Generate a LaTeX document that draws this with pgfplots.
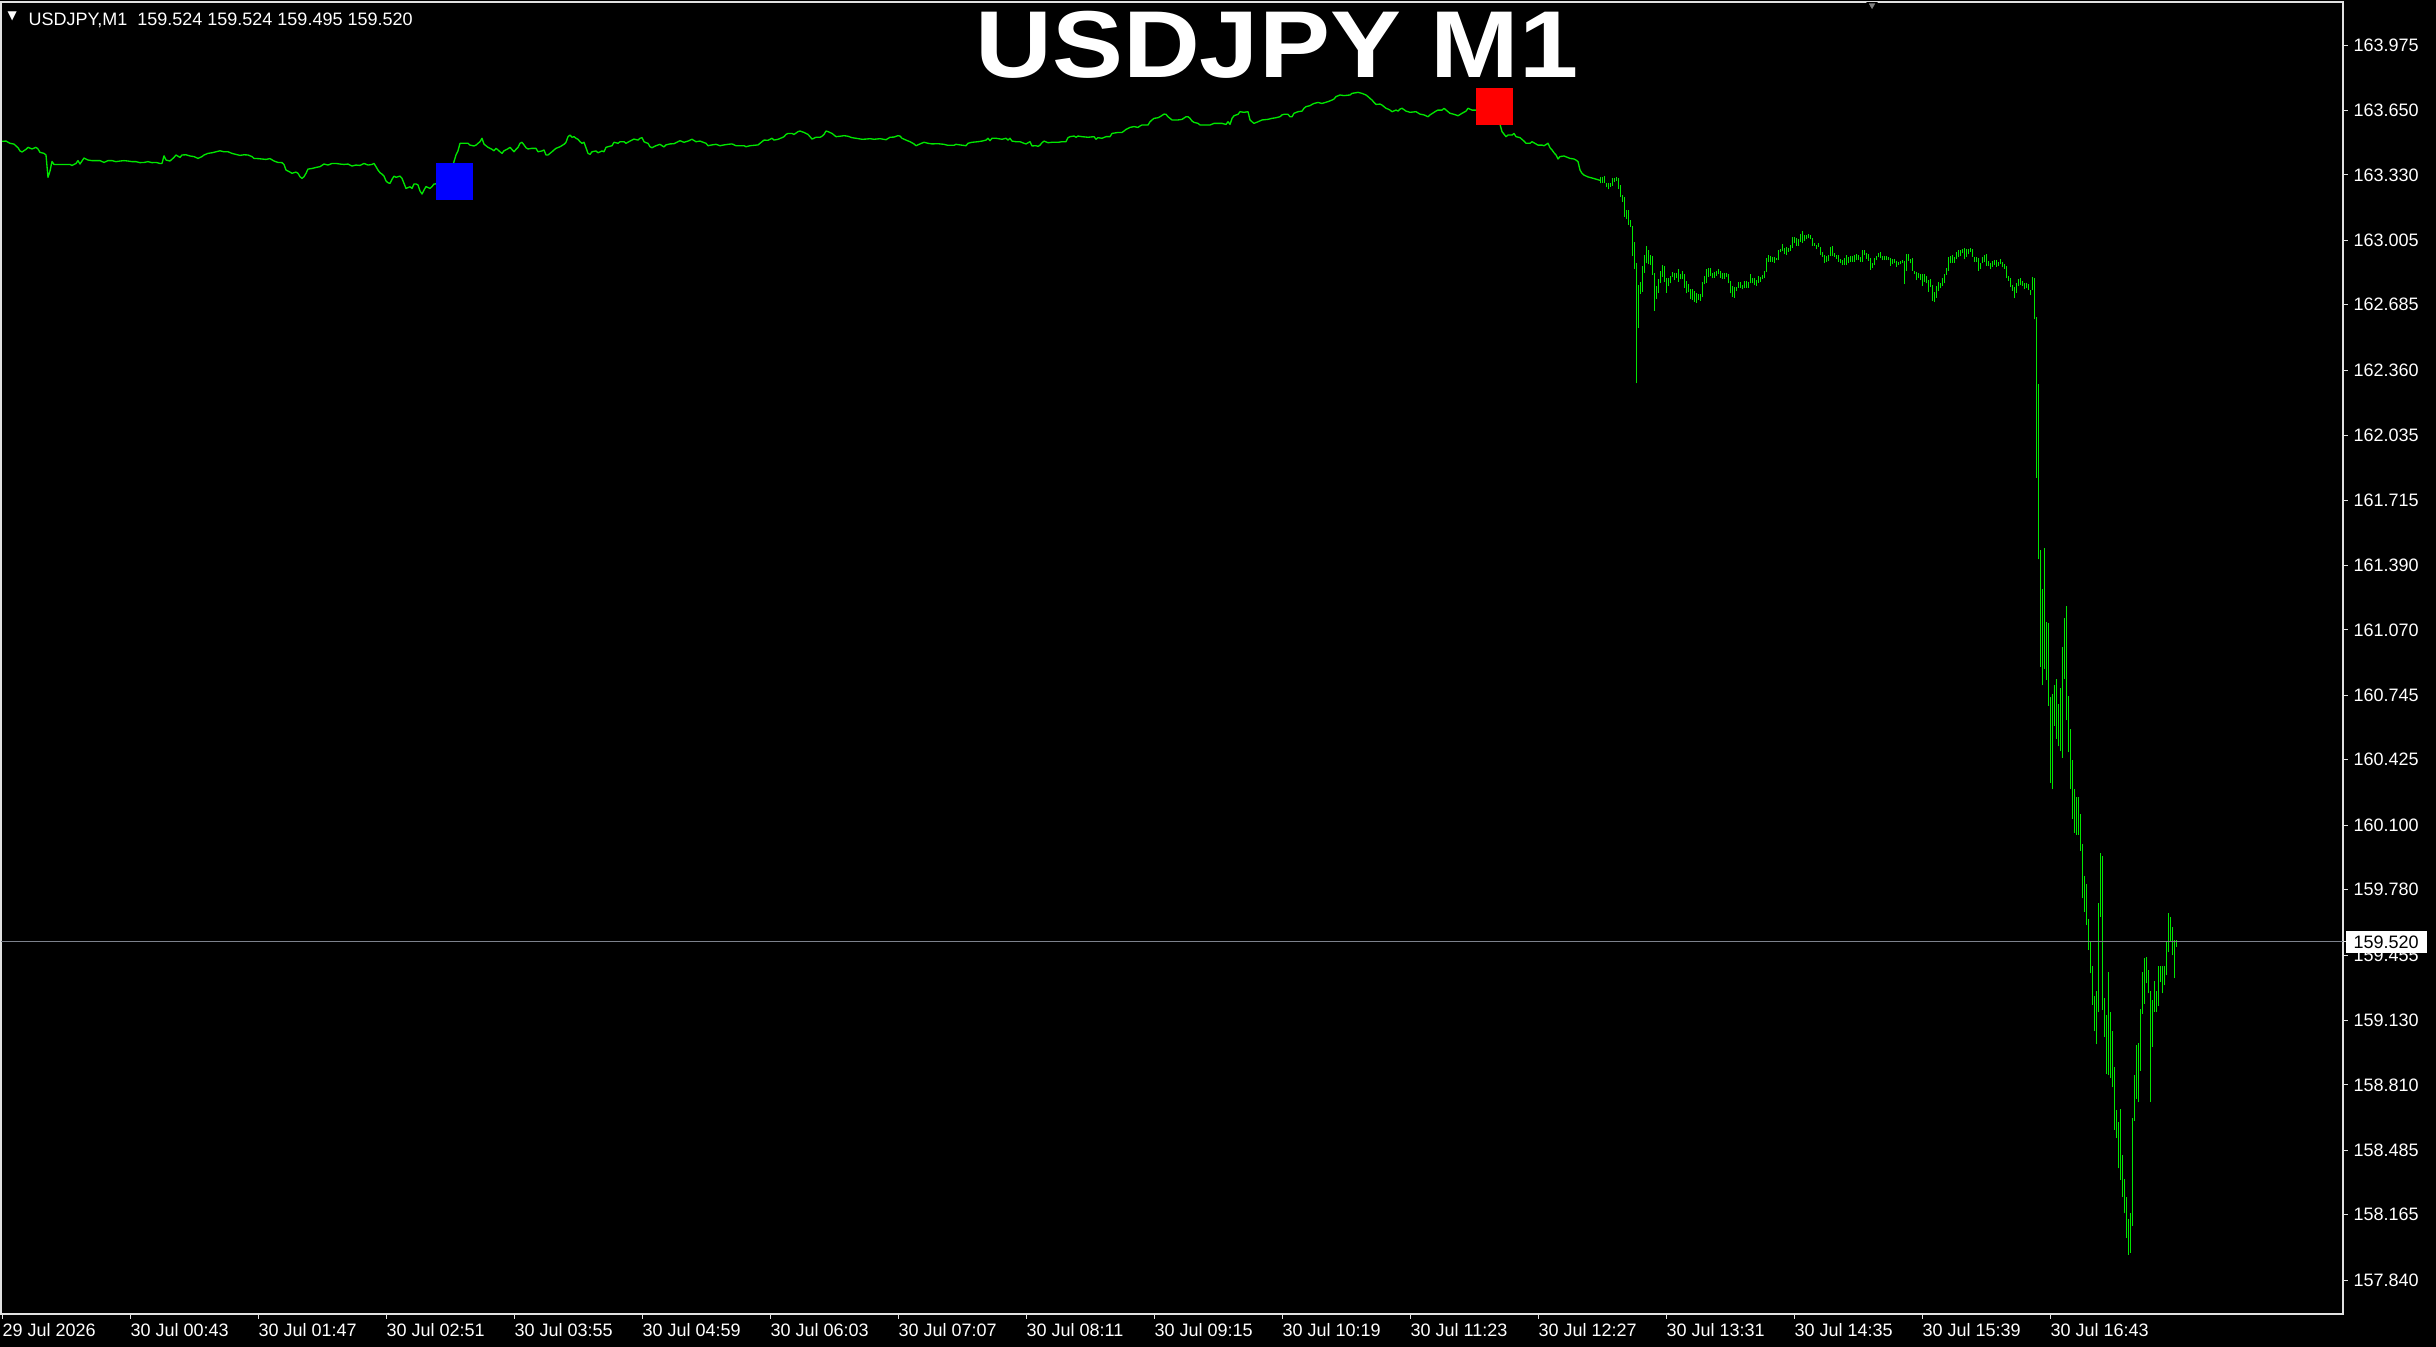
\documentclass[border=0pt]{standalone}
\usepackage{pgfplots}
\pgfplotsset{compat=1.18}
\usepackage{pgfplotstable}
\usepackage{fontspec}
\setmainfont{Liberation Sans}
\newfontfamily\dejavu{DejaVu Sans}

\definecolor{barg}{RGB}{0,230,0}
\definecolor{framec}{RGB}{225,225,225}
\definecolor{priceline}{RGB}{125,130,140}
\definecolor{hlcyan}{RGB}{70,225,255}
\definecolor{hlyellow}{RGB}{255,225,0}

% quiet part of the session: one value every one or two minutes (bar midpoints)
\pgfplotstableread{
m v
0 163.497
2 163.498
4 163.487
6 163.483
8 163.465
9 163.449
10 163.444
12 163.457
13 163.467
15 163.459
17 163.467
18 163.459
19 163.442
21 163.437
22 163.429
23 163.318
24 163.349
25 163.397
26 163.382
30 163.382
34 163.382
35 163.377
37 163.387
38 163.401
39 163.384
41 163.414
43 163.404
45 163.401
47 163.401
49 163.401
51 163.392
53 163.401
55 163.401
57 163.396
59 163.399
61 163.401
63 163.399
65 163.396
67 163.396
69 163.391
71 163.392
73 163.396
75 163.391
77 163.392
79 163.387
80 163.387
81 163.425
82 163.404
84 163.399
86 163.417
87 163.429
89 163.417
90 163.429
92 163.430
94 163.424
96 163.421
98 163.412
100 163.421
101 163.429
103 163.437
105 163.440
107 163.445
109 163.450
111 163.445
113 163.445
115 163.437
117 163.432
119 163.427
121 163.430
123 163.429
125 163.421
126 163.412
128 163.411
130 163.409
132 163.407
134 163.411
136 163.399
138 163.392
140 163.391
141 163.382
142 163.354
144 163.344
145 163.338
147 163.344
148 163.338
149 163.321
150 163.313
151 163.321
152 163.338
153 163.359
155 163.362
157 163.367
159 163.371
161 163.384
163 163.379
165 163.387
167 163.387
169 163.384
171 163.382
173 163.384
175 163.374
177 163.379
179 163.377
181 163.387
183 163.379
185 163.382
186 163.387
187 163.371
188 163.354
189 163.341
190 163.334
191 163.324
192 163.300
193 163.291
194 163.288
195 163.308
196 163.324
197 163.318
199 163.324
200 163.313
201 163.288
202 163.263
204 163.271
205 163.263
206 163.285
207 163.285
208 163.280
209 163.250
210 163.235
211 163.255
212 163.272
214 163.263
215 163.272
216 163.285
217 163.285
218 163.296
219 163.321
220 163.338
221 163.363
222 163.366
223 163.359
225 163.366
226 163.396
227 163.429
228 163.450
229 163.487
231 163.487
233 163.487
234 163.478
236 163.474
237 163.478
238 163.487
239 163.495
240 163.512
241 163.483
243 163.467
245 163.457
246 163.450
247 163.462
248 163.454
249 163.445
250 163.437
251 163.450
253 163.460
254 163.467
256 163.445
257 163.457
258 163.467
259 163.487
260 163.492
261 163.479
262 163.465
263 163.459
265 163.462
267 163.462
268 163.445
270 163.449
271 163.454
272 163.429
273 163.429
274 163.437
275 163.445
276 163.454
277 163.462
279 163.470
281 163.482
282 163.492
283 163.520
284 163.528
285 163.517
286 163.520
287 163.512
288 163.507
289 163.495
290 163.487
291 163.492
292 163.465
293 163.437
294 163.432
295 163.445
297 163.449
298 163.440
300 163.449
301 163.445
302 163.467
303 163.470
305 163.475
306 163.492
308 163.487
309 163.495
311 163.495
312 163.487
314 163.498
315 163.503
316 163.508
318 163.503
319 163.512
320 163.515
321 163.495
322 163.490
323 163.487
324 163.470
325 163.465
327 163.475
329 163.482
330 163.475
331 163.469
332 163.479
334 163.484
336 163.485
338 163.495
339 163.500
341 163.492
343 163.498
345 163.507
347 163.495
349 163.498
352 163.487
353 163.475
355 163.479
357 163.482
359 163.475
361 163.479
363 163.482
365 163.484
367 163.475
371 163.475
372 163.470
374 163.475
378 163.479
379 163.487
380 163.495
381 163.503
383 163.502
385 163.512
386 163.503
388 163.507
390 163.515
391 163.520
392 163.531
393 163.536
395 163.536
396 163.531
398 163.545
399 163.548
401 163.541
403 163.531
404 163.520
405 163.508
407 163.517
409 163.517
410 163.522
411 163.531
412 163.548
413 163.545
415 163.536
417 163.520
419 163.522
421 163.525
423 163.522
425 163.515
427 163.512
430 163.507
432 163.508
434 163.510
436 163.507
439 163.510
442 163.505
444 163.517
446 163.518
448 163.525
449 163.523
450 163.512
452 163.503
454 163.495
456 163.484
457 163.475
459 163.484
461 163.492
463 163.487
465 163.484
468 163.485
471 163.482
473 163.477
476 163.477
477 163.482
479 163.479
482 163.475
483 163.487
485 163.492
488 163.495
490 163.498
492 163.503
493 163.512
494 163.500
495 163.512
497 163.512
500 163.507
502 163.512
503 163.503
504 163.512
505 163.498
507 163.495
509 163.495
511 163.487
512 163.484
514 163.495
515 163.474
517 163.475
518 163.472
519 163.478
520 163.490
521 163.498
523 163.490
525 163.492
528 163.492
530 163.495
532 163.495
533 163.515
534 163.520
536 163.523
537 163.517
538 163.523
540 163.520
543 163.517
546 163.520
547 163.507
548 163.515
550 163.512
552 163.520
554 163.520
555 163.536
558 163.541
560 163.541
561 163.548
562 163.556
563 163.561
564 163.566
566 163.570
568 163.566
569 163.573
570 163.578
573 163.578
574 163.594
575 163.603
576 163.611
578 163.614
579 163.619
581 163.632
582 163.631
583 163.619
584 163.611
585 163.603
588 163.603
590 163.606
592 163.619
593 163.619
594 163.611
595 163.598
596 163.591
598 163.586
599 163.578
604 163.578
606 163.586
610 163.586
612 163.581
613 163.594
614 163.581
615 163.611
616 163.624
618 163.631
619 163.644
621 163.641
623 163.644
624 163.603
625 163.594
626 163.586
628 163.594
630 163.603
633 163.606
635 163.611
637 163.614
639 163.619
640 163.628
641 163.631
643 163.631
644 163.619
645 163.619
646 163.636
648 163.644
650 163.647
651 163.661
652 163.669
654 163.674
655 163.680
656 163.685
658 163.690
660 163.685
663 163.694
665 163.702
666 163.707
667 163.719
669 163.727
671 163.724
674 163.727
675 163.735
678 163.740
680 163.735
682 163.727
683 163.719
684 163.710
685 163.702
686 163.690
687 163.680
689 163.682
690 163.677
692 163.661
693 163.657
694 163.652
695 163.644
697 163.652
698 163.647
699 163.657
700 163.661
702 163.647
704 163.641
707 163.644
709 163.632
711 163.628
713 163.619
714 163.628
716 163.641
717 163.647
718 163.652
720 163.652
721 163.661
723 163.644
724 163.636
726 163.631
728 163.624
730 163.636
732 163.647
733 163.661
735 163.652
738 163.652
740 163.661
741 163.656
742 163.644
743 163.631
744 163.619
745 163.603
746 163.598
748 163.598
749 163.581
750 163.545
752 163.520
753 163.528
755 163.528
756 163.536
757 163.520
759 163.515
761 163.498
762 163.487
764 163.487
765 163.495
768 163.478
770 163.478
771 163.475
773 163.487
774 163.465
775 163.454
776 163.440
777 163.429
778 163.409
779 163.421
781 163.424
784 163.412
786 163.409
787 163.404
788 163.396
789 163.354
790 163.338
791 163.329
793 163.320
796 163.312
799 163.303
}\calm

% last part, bar by bar: low and high of each minute
\pgfplotstableread{
m lo hi
799 163.288 163.318
800 163.291 163.321
801 163.288 163.324
802 163.268 163.291
803 163.258 163.288
804 163.272 163.288
805 163.275 163.315
806 163.296 163.315
807 163.301 163.318
808 163.262 163.315
809 163.222 163.280
810 163.197 163.230
811 163.123 163.220
812 163.111 163.156
813 163.081 163.156
814 163.073 163.106
815 162.927 163.076
816 162.864 162.997
817 162.295 162.891
818 162.571 162.783
819 162.740 162.798
820 162.750 162.878
821 162.844 162.932
822 162.891 162.977
823 162.886 162.957
824 162.882 162.932
825 162.833 162.927
826 162.656 162.841
827 162.715 162.778
828 162.745 162.811
829 162.795 162.853
830 162.824 162.882
831 162.800 162.878
832 162.745 162.816
833 162.778 162.820
834 162.791 162.828
835 162.821 162.849
836 162.808 162.844
837 162.816 162.844
838 162.800 162.863
839 162.811 162.838
840 162.813 162.853
841 162.770 162.838
842 162.742 162.803
843 162.747 162.786
844 162.712 162.762
845 162.709 162.762
846 162.699 162.752
847 162.695 162.745
848 162.709 162.738
849 162.705 162.738
850 162.722 162.798
851 162.786 162.829
852 162.795 162.863
853 162.824 162.869
854 162.828 162.866
855 162.816 162.841
856 162.820 162.849
857 162.828 162.853
858 162.836 162.863
859 162.818 162.853
860 162.815 162.844
861 162.815 162.844
862 162.824 162.841
863 162.791 162.836
864 162.742 162.805
865 162.725 162.778
866 162.720 162.775
867 162.753 162.775
868 162.770 162.796
869 162.770 162.798
870 162.762 162.783
871 162.770 162.803
872 162.770 162.803
873 162.770 162.796
874 162.791 162.838
875 162.791 162.820
876 162.783 162.820
877 162.780 162.808
878 162.795 162.829
879 162.800 162.821
880 162.813 162.833
881 162.816 162.853
882 162.849 162.919
883 162.899 162.932
884 162.899 162.929
885 162.899 162.924
886 162.894 162.924
887 162.907 162.919
888 162.907 162.957
889 162.949 162.962
890 162.952 162.985
891 162.937 162.965
892 162.932 162.970
893 162.949 162.969
894 162.952 162.982
895 162.969 163.020
896 162.993 163.020
897 162.977 163.018
898 162.978 163.010
899 162.998 163.036
900 162.993 163.051
901 163.002 163.031
902 163.010 163.031
903 163.015 163.036
904 163.010 163.031
905 162.977 163.015
906 162.977 162.990
907 162.960 162.982
908 162.974 162.990
909 162.932 162.974
910 162.924 162.949
911 162.894 162.932
912 162.899 162.927
913 162.902 162.932
914 162.927 162.970
915 162.927 162.977
916 162.924 162.944
917 162.912 162.932
918 162.899 162.930
919 162.891 162.911
920 162.882 162.907
921 162.882 162.916
922 162.882 162.930
923 162.891 162.924
924 162.899 162.927
925 162.899 162.927
926 162.899 162.932
927 162.907 162.937
928 162.907 162.932
929 162.899 162.921
930 162.899 162.957
931 162.932 162.957
932 162.912 162.940
933 162.904 162.937
934 162.858 162.916
935 162.866 162.894
936 162.882 162.916
937 162.907 162.927
938 162.921 162.940
939 162.916 162.945
940 162.907 162.927
941 162.907 162.927
942 162.907 162.927
943 162.907 162.924
944 162.879 162.916
945 162.886 162.911
946 162.891 162.911
947 162.874 162.902
948 162.882 162.899
949 162.886 162.902
950 162.894 162.907
951 162.788 162.902
952 162.854 162.935
953 162.904 162.935
954 162.891 162.912
955 162.854 162.919
956 162.838 162.854
957 162.808 162.846
958 162.816 162.841
959 162.808 162.836
960 162.778 162.838
961 162.800 162.838
962 162.791 162.829
963 162.750 162.808
964 162.775 162.813
965 162.704 162.783
966 162.700 162.750
967 162.720 162.778
968 162.753 162.796
969 162.767 162.795
970 162.778 162.816
971 162.791 162.836
972 162.833 162.866
973 162.854 162.924
974 162.891 162.927
975 162.894 162.932
976 162.894 162.924
977 162.911 162.945
978 162.921 162.957
979 162.927 162.957
980 162.940 162.962
981 162.911 162.965
982 162.924 162.960
983 162.935 162.962
984 162.949 162.965
985 162.924 162.960
986 162.899 162.924
987 162.899 162.921
988 162.854 162.916
989 162.861 162.894
990 162.894 162.921
991 162.899 162.932
992 162.879 162.935
993 162.878 162.904
994 162.861 162.891
995 162.874 162.902
996 162.882 162.907
997 162.874 162.907
998 162.878 162.899
999 162.886 162.912
1000 162.871 162.896
1001 162.863 162.886
1002 162.816 162.878
1003 162.805 162.828
1004 162.775 162.816
1005 162.755 162.783
1006 162.717 162.775
1007 162.745 162.791
1008 162.778 162.813
1009 162.783 162.820
1010 162.780 162.803
1011 162.762 162.795
1012 162.767 162.791
1013 162.758 162.786
1014 162.733 162.758
1015 162.758 162.821
1016 162.613 162.816
1017 161.826 162.624
1018 161.420 162.291
1019 160.887 161.466
1020 160.794 161.273
1021 160.877 161.476
1022 160.821 161.107
1023 160.694 161.104
1024 160.312 160.738
1025 160.279 160.751
1026 160.595 160.794
1027 160.528 160.824
1028 160.491 160.701
1029 160.468 160.781
1030 160.435 160.984
1031 160.827 161.127
1032 160.621 161.187
1033 160.462 160.744
1034 160.279 160.578
1035 160.129 160.422
1036 160.062 160.279
1037 160.052 160.239
1038 160.052 160.239
1039 159.972 160.155
1040 159.736 160.006
1041 159.670 159.846
1042 159.603 159.806
1043 159.480 159.633
1044 159.364 159.523
1045 159.207 159.400
1046 159.077 159.250
1047 159.011 159.274
1048 159.171 159.713
1049 159.646 159.962
1050 159.181 159.946
1051 159.047 159.240
1052 158.864 159.157
1053 158.858 159.370
1054 158.844 159.171
1055 158.798 159.077
1056 158.588 158.898
1057 158.545 158.685
1058 158.395 158.628
1059 158.339 158.688
1060 158.252 158.462
1061 158.172 158.342
1062 158.049 158.252
1063 157.966 158.142
1064 157.976 158.172
1065 158.109 158.648
1066 158.631 158.858
1067 158.738 159.008
1068 158.725 159.018
1069 158.881 159.187
1070 159.164 159.370
1071 159.214 159.440
1072 159.314 159.447
1073 159.264 159.380
1074 158.725 159.274
1075 158.998 159.230
1076 159.174 159.324
1077 159.174 159.274
1078 159.204 159.403
1079 159.320 159.403
1080 159.264 159.400
1081 159.304 159.400
1082 159.354 159.520
1083 159.470 159.663
1084 159.523 159.643
1085 159.453 159.596
1086 159.340 159.530
1087 159.497 159.530
}\bars

\begin{document}
\begin{tikzpicture}
\fill[black] (0,0) rectangle (730.8pt,404.1pt);
\begin{axis}[
  at={(0.3pt,9.9pt)}, anchor=south west,
  scale only axis, width=702.6pt, height=393.6pt,
  xmin=-0.5, xmax=1170.5, ymin=157.672, ymax=164.189,
  axis line style={framec, line width=0.4pt},
  tick align=outside,
  xtick pos=left, ytick pos=right,
  xticklabel pos=left, yticklabel pos=right,
  major tick length=1.5pt,
  tick style={framec, line width=0.3pt},
  xtick={0,64,...,1024},
  xticklabels={29 Jul 2026,30 Jul 00:43,30 Jul 01:47,30 Jul 02:51,30 Jul 03:55,30 Jul 04:59,30 Jul 06:03,30 Jul 07:07,30 Jul 08:11,30 Jul 09:15,30 Jul 10:19,30 Jul 11:23,30 Jul 12:27,30 Jul 13:31,30 Jul 14:35,30 Jul 15:39,30 Jul 16:43},
  ytick={157.840,158.165,158.485,158.810,159.130,159.455,159.780,160.100,160.425,160.745,161.070,161.390,161.715,162.035,162.360,162.685,163.005,163.330,163.650,163.975},
  yticklabels={157.840,158.165,158.485,158.810,159.130,159.455,159.780,160.100,160.425,160.745,161.070,161.390,161.715,162.035,162.360,162.685,163.005,163.330,163.650,163.975},
  ticklabel style={font=\fontsize{5.4}{6}\selectfont, text=white},
  xticklabel style={anchor=north west, inner sep=0pt, yshift=-1.2pt},
  yticklabel style={anchor=west, inner sep=0pt, xshift=1.5pt},
  extra y ticks={159.520},
  extra y tick labels={159.520},
  extra y tick style={yticklabel style={fill=white, text=black, inner xsep=2.4pt, inner ysep=1.4pt, xshift=-2.4pt}},
]
\addplot[barg, line width=0.4pt, line join=round] table[x=m, y=v]{\calm};
\addplot[barg, only marks, mark=*, mark size=0pt, mark options={draw=none, fill=none},
  error bars/.cd, y dir=plus, y explicit, error mark=none,
  error bar style={barg, line width=0.3pt}]
  table[x=m, y=lo, y error plus expr=\thisrow{hi}-\thisrow{lo}]{\bars};
\addplot[priceline, line width=0.3pt] coordinates {(-0.5,159.520) (1170.5,159.520)};
% trade markers and the bars they highlight
\addplot[only marks, mark=square*, mark size=5.4pt, mark options={fill=blue, draw=blue, line width=0pt}] coordinates {(226,163.297)};
\addplot[only marks, mark=square*, mark size=5.4pt, mark options={fill=red, draw=red, line width=0pt}] coordinates {(746,163.672)};
\addplot[hlcyan, line width=0.4pt] coordinates {(217,163.285) (218,163.296) (219,163.321) (220,163.338) (221,163.363) (222,163.366) (223,163.359) (225,163.366)};
\addplot[hlyellow, line width=0.4pt] coordinates {(737,163.652) (738,163.652) (740,163.661) (741,163.656) (742,163.644) (743,163.631) (744,163.619) (745,163.603) (746,163.598) (748,163.598)};
% chart shift marker
\addplot[only marks, mark=triangle*, mark size=1.6pt, mark options={rotate=180, fill=gray, draw=none}] coordinates {(935,164.172)};
\node[anchor=base west, inner sep=0pt, text=white, font=\dejavu\fontsize{3.6}{4}\selectfont] at (axis description cs:0.0026,0.9863) {▼};
\node[anchor=base west, inner sep=0pt, text=white, font=\fontsize{5.4}{6}\selectfont] at (axis description cs:0.01153,0.9817) {USDJPY,M1\ \ 159.524 159.524 159.495 159.520};
\node[anchor=base, inner sep=0pt, text=white, xscale=1.12, font=\bfseries\fontsize{28.5}{34}\selectfont] at (axis description cs:0.5448,0.9421) {USDJPY M1};
\end{axis}
\end{tikzpicture}
\end{document}
